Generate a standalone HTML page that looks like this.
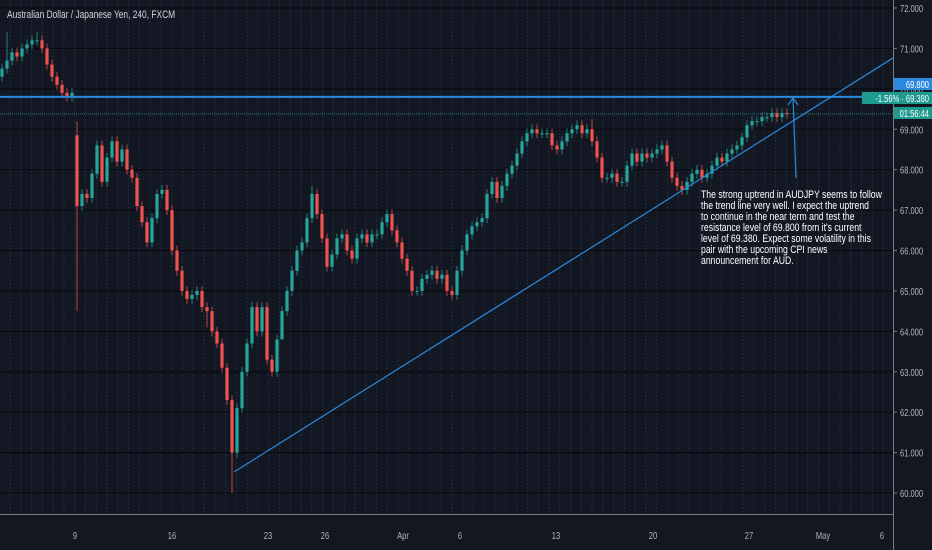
<!DOCTYPE html>
<html><head><meta charset="utf-8"><style>
html,body{margin:0;padding:0;background:#131722;}
svg{display:block;font-family:"Liberation Sans",sans-serif;}
</style></head><body>
<svg id="chart" width="932" height="550" viewBox="0 0 932 550" xmlns="http://www.w3.org/2000/svg">
<rect x="0" y="0" width="932" height="550" fill="#131722"/>
<g id="grid"></g>
<g id="candles"></g>
<g id="overlay"></g>
<g id="yaxis"></g>
<g id="xaxis"></g>
<text transform="translate(7,18) scale(0.73,1)" x="0" y="0" fill="#d1d4dc" font-size="11.5">Australian Dollar / Japanese Yen, 240, FXCM</text>
<text fill="#ffffff" font-size="11" transform="translate(701,0) scale(0.79,1)">
<tspan x="0" y="198">The strong uptrend in AUDJPY seems to follow</tspan>
<tspan x="0" y="209">the trend line very well. I expect the uptrend</tspan>
<tspan x="0" y="220">to continue in the near term and test the</tspan>
<tspan x="0" y="231">resistance level of 69.800 from it's current</tspan>
<tspan x="0" y="242">level of 69.380. Expect some volatility in this</tspan>
<tspan x="0" y="253">pair with the upcoming CPI news</tspan>
<tspan x="0" y="264">announcement for AUD.</tspan>
</text>
</svg>
<script>
const priceTicks = [72,71,70,69,68,67,66,65,64,63,62,61,60];
const dateLabels = ["9","16","23","26","Apr","6","13","20","27","May","6"];
const dateLabelX = [75,172,268,325,403,460,556,653,749,823,882];
const closes = [70.5,70.7,70.9,70.8,71.0,71.1,71.2,71.2,71.0,70.6,70.3,70.1,69.9,69.8,69.9,
67.1,67.4,67.3,67.9,68.6,67.7,68.3,68.7,68.2,68.5,68.0,67.8,67.1,66.7,66.2,66.8,67.4,67.5,67.0,66.0,65.5,65.0,64.8,64.9,65.0,64.6,64.5,64.0,63.7,63.1,62.3,61.0,
62.1,63.0,63.7,64.6,64.0,64.6,63.3,63.0,63.8,64.5,65.0,65.5,66.0,66.2,66.8,67.4,66.9,66.3,65.6,65.9,66.3,66.4,66.0,65.8,66.3,66.4,66.2,66.4,66.4,66.7,66.9,66.5,66.2,65.8,65.5,65.0,65.0,65.3,65.4,65.5,65.3,65.4,65.0,64.9,
65.5,66.0,66.4,66.6,66.7,66.8,67.4,67.7,67.3,67.6,67.9,68.1,68.4,68.7,68.9,69.0,68.9,68.9,68.9,68.6,68.5,68.7,68.9,69.0,69.1,68.9,69.0,68.7,68.3,67.8,67.8,67.9,67.7,67.7,68.1,68.4,68.2,68.4,68.3,68.4,68.5,68.6,68.2,67.8,67.6,67.5,67.7,67.9,68.0,67.8,67.9,68.1,68.3,68.2,68.4,68.5,68.6,68.8,69.1,69.2,69.2,69.3,69.3,69.4,69.3,69.4,69.38];
const firstOpen = 70.3;
const gapOpen = {15:68.85};
const lowOverrides = {15:64.5, 46:60.0, 41:64.1, 56:64.3};
const highOverrides = {15:69.2, 1:71.4, 7:71.4, 62:67.6, 118:69.25};
const resistance = 69.8;
const lastPrice = 69.38;

const NS="http://www.w3.org/2000/svg";
const plotRight=893, axisY=514;
const y = p => 8 + (72-p)*40.42;
const step = (787-2)/(closes.length-1);
const x = i => 2 + i*step;
function mk(tag, attrs, parent){const e=document.createElementNS(NS,tag);for(const k in attrs)e.setAttribute(k,attrs[k]);parent.appendChild(e);return e;}

const grid=document.getElementById('grid');
for(let vx=10; vx<plotRight; vx+=10.78){
  const l=mk('line',{x1:vx.toFixed(1),x2:vx.toFixed(1),y1:0,y2:axisY,stroke:'#1f3556','stroke-width':1,'stroke-dasharray':'1.5,2'},grid);
  
  
}
priceTicks.forEach(p=>{
  const l=mk('line',{x1:0,x2:plotRight,y1:y(p),y2:y(p),stroke:'#07080c','stroke-width':1},grid);
  
  
});

const cg=document.getElementById('candles');
closes.forEach((c,i)=>{
  const o = gapOpen[i]!==undefined?gapOpen[i]:(i===0?firstOpen:closes[i-1]);
  const up = c>=o;
  const col = up?'#26a69a':'#ef5350';
  const hi = highOverrides[i]!==undefined?highOverrides[i]:Math.max(o,c)+0.12;
  const lo = lowOverrides[i]!==undefined?lowOverrides[i]:Math.min(o,c)-0.12;
  const cx=x(i);
  const g=mk('g',{},cg);
  
  
  mk('line',{x1:cx,x2:cx,y1:y(hi),y2:y(lo),stroke:col,'stroke-width':1,opacity:0.75},g);
  const top=y(Math.max(o,c)), h=Math.max(1,Math.abs(y(o)-y(c)));
  mk('rect',{x:cx-1.6,y:top,width:3.2,height:h,fill:col},g);
});

const ov=document.getElementById('overlay');
let e;
e=mk('line',{x1:0,x2:plotRight,y1:y(resistance),y2:y(resistance),stroke:'#2a8ae0','stroke-width':2},ov);


e=mk('line',{x1:0,x2:plotRight,y1:y(lastPrice),y2:y(lastPrice),stroke:'#26a69a','stroke-width':1,'stroke-dasharray':'1,1',opacity:0.7},ov);


e=mk('line',{x1:234,y1:472,x2:plotRight,y2:58,stroke:'#2a8ae0','stroke-width':1.2},ov);


e=mk('path',{d:'M796 178 L793 98 M788 105 L793 98 L798 105',stroke:'#2a8ae0','stroke-width':1.2,fill:'none'},ov);



const ya=document.getElementById('yaxis');
mk('rect',{x:plotRight,y:0,width:39,height:550,fill:'#131722'},ya);
mk('line',{x1:plotRight+0.5,x2:plotRight+0.5,y1:0,y2:550,stroke:'#787b86','stroke-width':1},ya);
priceTicks.forEach(p=>{
  mk('line',{x1:plotRight,x2:plotRight+4,y1:y(p),y2:y(p),stroke:'#787b86','stroke-width':1},ya);
  const t=mk('text',{transform:`translate(900,${y(p)+4}) scale(0.72,1)`,x:0,y:0,fill:'#b2b5be','font-size':10.5},ya);
  t.textContent=p.toFixed(3);
  
  
});
function tag(x0,yc,w,txt,bg,name){
  const g=mk('g',{},ya);
  
  
  mk('rect',{x:x0,y:yc-6,width:w,height:12,fill:bg},g);
  const t=mk('text',{transform:`translate(${x0+w-3},${yc+4}) scale(0.72,1)`,x:0,y:0,fill:'#ffffff','font-size':10.5,'text-anchor':'end'},g);
  t.textContent=txt;
}
tag(894,84,38,'69.800','#2a8ae0','resistance-price-tag');
tag(862,98,70,'-1.56% · 69.380','#1f9a8f','last-price-tag');
tag(894,113,38,'01:56:44','#1f9a8f','countdown-tag');

const xa=document.getElementById('xaxis');
mk('line',{x1:0,x2:plotRight,y1:axisY+0.5,y2:axisY+0.5,stroke:'#787b86','stroke-width':1},xa);
dateLabels.forEach((d,i)=>{
  const t=mk('text',{transform:`translate(${dateLabelX[i]},539) scale(0.72,1)`,x:0,y:0,fill:'#b2b5be','font-size':10.5,'text-anchor':'middle'},xa);
  t.textContent=d;
  
  
});
</script>
</body></html>
